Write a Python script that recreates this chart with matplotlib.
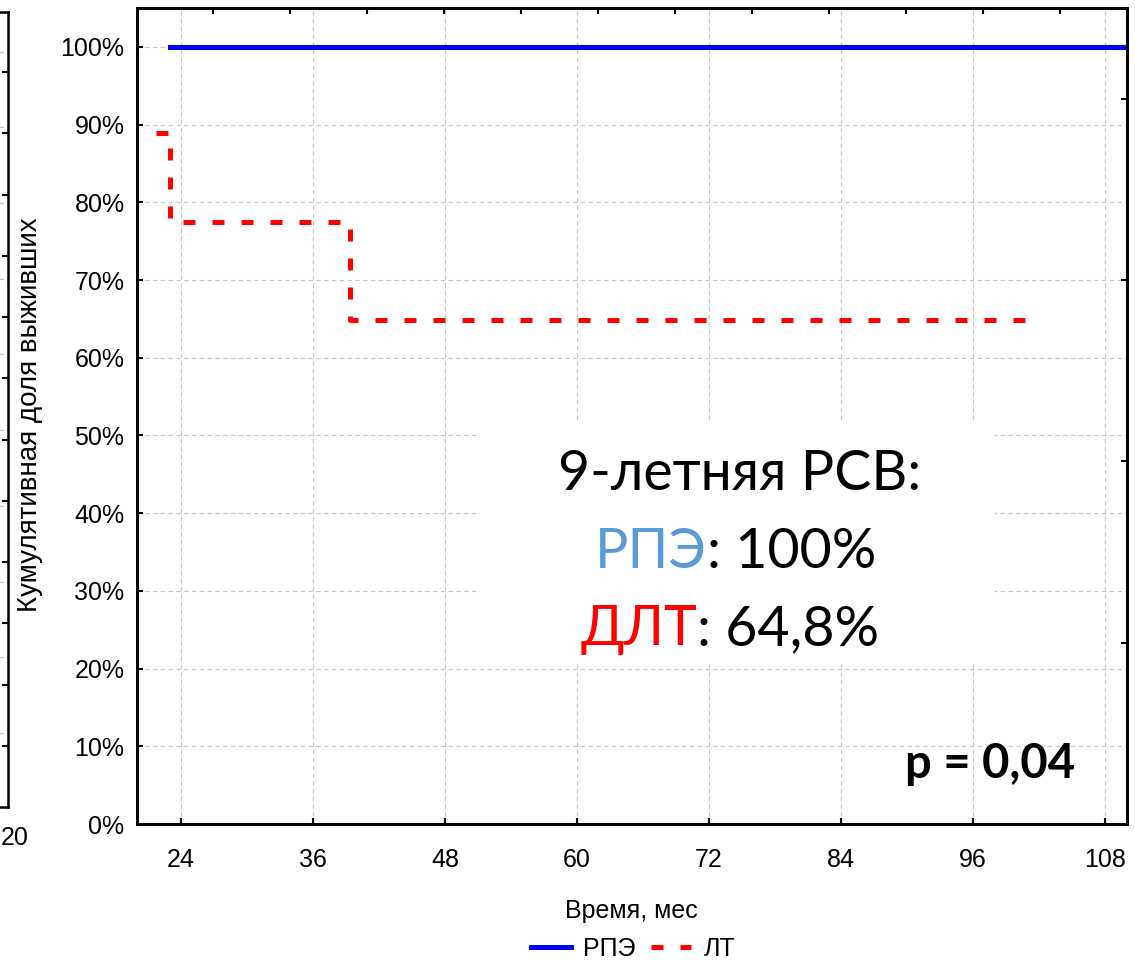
import numpy as np
import matplotlib
matplotlib.use("Agg")
import matplotlib.pyplot as plt

plt.rcParams['font.family'] = ['Liberation Sans', 'DejaVu Sans']

# survival curves (months, % surviving)
rpe_time = [23.0, 112.0]
rpe_surv = [100.0, 100.0]
lt_time = [21.7, 23.0, 39.4, 101.0]
lt_surv = [88.9, 77.5, 64.8, 64.8]

x_ticks = [24, 36, 48, 60, 72, 84, 96, 108]
y_ticks = [0, 10, 20, 30, 40, 50, 60, 70, 80, 90, 100]
y_labels = [f"{v}%" for v in y_ticks]

series_names = ["РПЭ", "ЛТ"]
summary_title = "9-летняя РСВ:"
summary_groups = ["РПЭ", "ДЛТ"]
summary_values = [": 100%", ": 64,8%"]
p_text = "p = 0,04"

W, H = 1135, 960
fig = plt.figure(figsize=(W / 100, H / 100), dpi=100)

# leftover edge of a neighbouring chart on the left
strip = fig.add_axes([-0.5, 1 - 807 / H, 0.5 + 8 / W, (807 - 12) / H])
strip.set_xlim(0, 1)
strip.set_ylim(0, 12.98)
strip.yaxis.tick_right()
strip.set_yticks(range(1, 13))
strip.set_yticks(1.208 + 1.236 * np.arange(10), minor=True)
strip.tick_params(axis='y', which='major', direction='in', length=4, width=1.5, labelright=False)
strip.tick_params(axis='y', which='minor', length=0)
strip.grid(True, which='minor', axis='y', color='#c8c8c8', lw=0.8, ls=(0, (4, 3)))
strip.set_xticks([])
for s in strip.spines.values():
    s.set_linewidth(1.8)
fig.text(15 / W, 1 - 838 / H, "20", fontsize=18, ha='center', va='center')

# main plot
ax = fig.add_axes([137 / W, 1 - 824 / H, (1127 - 137) / W, (824 - 8) / H])
ax.set_xlim(20, 110)
ax.set_ylim(0, 105)
ax.set_xticks(x_ticks)
ax.set_yticks(y_ticks)
ax.set_yticklabels(y_labels)
ax.tick_params(axis='x', direction='in', length=4, width=1.5, pad=17, labelsize=18)
ax.tick_params(axis='y', direction='in', length=4, width=1.5, pad=9, labelsize=18)
ax.grid(True, color='#c8c8c8', lw=0.8, ls=(0, (4, 3)))
ax.set_axisbelow(True)
for s in ax.spines.values():
    s.set_linewidth(1.8)

l1, = ax.step(rpe_time, rpe_surv, where='post', color='#0000ff', lw=3.6,
              label=series_names[0], zorder=4)
l2, = ax.step(lt_time, lt_surv, where='post', color='#ff0000', lw=3.6,
              dashes=(2.4, 3.4), label=series_names[1], zorder=4)

# extra tick marks on top and right (mirrored scale)
top = ax.twiny()
top.set_xlim(-0.99, 11.87)
top.set_xticks(range(12))
top.tick_params(axis='x', direction='in', length=4, width=1.5, labeltop=False)
right = ax.twinx()
right.set_ylim(0, 4.5)
right.set_yticks([1, 2, 3, 4])
right.tick_params(axis='y', direction='in', length=4, width=1.5, labelright=False)
for a in (top, right):
    for s in a.spines.values():
        s.set_linewidth(1.8)

# white box with summary
ax.add_patch(plt.Rectangle((0.346, 0.197), 0.521, 0.296, transform=ax.transAxes,
                           facecolor='white', edgecolor='none', zorder=3))
big = dict(family=['Lato', 'DejaVu Sans'], fontsize=40, va='baseline', zorder=5,
           transform=ax.transAxes)
ax.text(0.609, 0.409, summary_title, ha='center', color='black', **big)
ax.text(0.576, 0.3137, summary_groups[0], ha='right', color='#5b9bd5', **big)
ax.text(0.576, 0.3137, summary_values[0], ha='left', color='black', **big)
ax.text(0.566, 0.2194, summary_groups[1], ha='right', color='#ff0000', **big)
ax.text(0.566, 0.2194, summary_values[1], ha='left', color='black', **big)
ax.text(0.862, 0.0564, p_text, ha='center', va='baseline', fontsize=34,
        fontweight='bold', family=['Lato', 'DejaVu Sans'], transform=ax.transAxes, zorder=5)

fig.text(30 / W, 1 - 415 / H, "Кумулятивная доля выживших", rotation=90,
         fontsize=20, ha='center', va='center')
fig.text(631 / W, 1 - 911 / H, "Время, мес", fontsize=18, ha='center', va='center')

fig.legend(handles=[l1, l2], loc='center', bbox_to_anchor=(633 / W, 1 - 949 / H),
           ncol=2, frameon=False, fontsize=18, handlelength=1.6, handletextpad=0.5,
           columnspacing=0.6, borderpad=0)

fig.savefig("out.png", dpi=100)
